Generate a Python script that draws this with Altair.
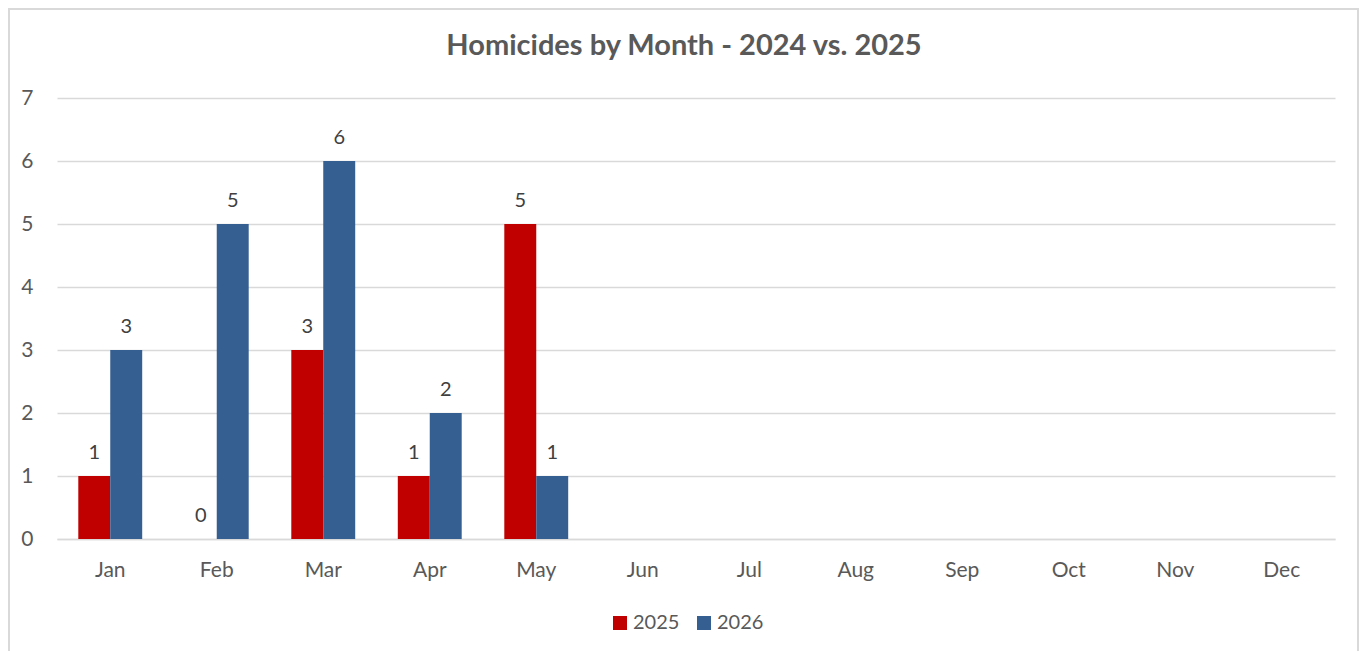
import altair as alt
import pandas as pd

months = ["Jan", "Feb", "Mar", "Apr", "May", "Jun", "Jul", "Aug", "Sep", "Oct", "Nov", "Dec"]
years = ["2025", "2026"]
values_2025 = [1, 0, 3, 1, 5]
values_2026 = [3, 5, 6, 2, 1]
colors = ["#C00000", "#355E91"]
title_text = "Homicides by Month - 2024 vs. 2025"

rows = []
for m, v in zip(months, values_2025):
    rows.append({"month": m, "year": "2025", "value": v})
for m, v in zip(months, values_2026):
    rows.append({"month": m, "year": "2026", "value": v})
df = pd.DataFrame(rows)

W, H = 1278, 441
FONT = "Lato"

x_enc = alt.X("month:N", sort=months, scale=alt.Scale(domain=months, paddingInner=0.4, paddingOuter=0.2),
              axis=alt.Axis(title=None, labelAngle=0, ticks=False, domain=True, domainColor="#d9d9d9",
                            domainWidth=1.5, labelPadding=20, labelFontSize=21, labelColor="#595959",
                            labelFont=FONT, grid=False))
y_enc = alt.Y("value:Q", scale=alt.Scale(domain=[0, 7], nice=False),
              axis=alt.Axis(title=None, values=[0, 1, 2, 3, 4, 5, 6, 7], format="d", ticks=False,
                            domain=False, gridColor="#d9d9d9", gridWidth=1.5, labelPadding=24,
                            labelFontSize=21, labelColor="#595959", labelFont=FONT))

base = alt.Chart(df)

bars = base.mark_bar().encode(
    x=x_enc,
    y=y_enc,
    xOffset=alt.XOffset("year:N", sort=years, scale=alt.Scale(paddingInner=0, paddingOuter=0)),
    color=alt.Color("year:N", sort=years, scale=alt.Scale(domain=years, range=colors),
                    legend=alt.Legend(title=None, orient="none", direction="horizontal",
                                      legendX=553, legendY=515, symbolType="square", symbolSize=196,
                                      symbolStrokeWidth=0, labelFontSize=20, labelColor="#595959",
                                      labelFont=FONT, columnPadding=14, labelOffset=3, padding=0)),
)

labels = base.mark_text(baseline="alphabetic", dy=-17, fontSize=20, color="#404040", font=FONT).encode(
    x=alt.X("month:N", sort=months),
    y=alt.Y("value:Q"),
    xOffset=alt.XOffset("year:N", sort=years),
    text=alt.Text("value:Q"),
)

title = alt.Chart(pd.DataFrame({"t": [title_text]})).mark_text(
    fontSize=29, font=FONT, fontWeight="bold", color="#595959", align="center", baseline="middle"
).encode(
    x=alt.value(627), y=alt.value(-52), text="t:N"
)

frame = alt.Chart(pd.DataFrame({"k": [0]})).mark_rect(
    fillOpacity=0, stroke="#d9d9d9", strokeWidth=2
).encode(
    x=alt.value(-48), x2=alt.value(W + 23), y=alt.value(-89), y2=alt.value(H + 300)
)

chart = alt.layer(bars, labels, title, frame).properties(
    width=W, height=H,
    autosize=alt.AutoSizeParams(type="none"),
    padding={"left": 49, "top": 90, "right": 24, "bottom": 112},
).configure_view(stroke=None)

chart.save("out.html", embed_options={"renderer": "svg", "actions": False})
